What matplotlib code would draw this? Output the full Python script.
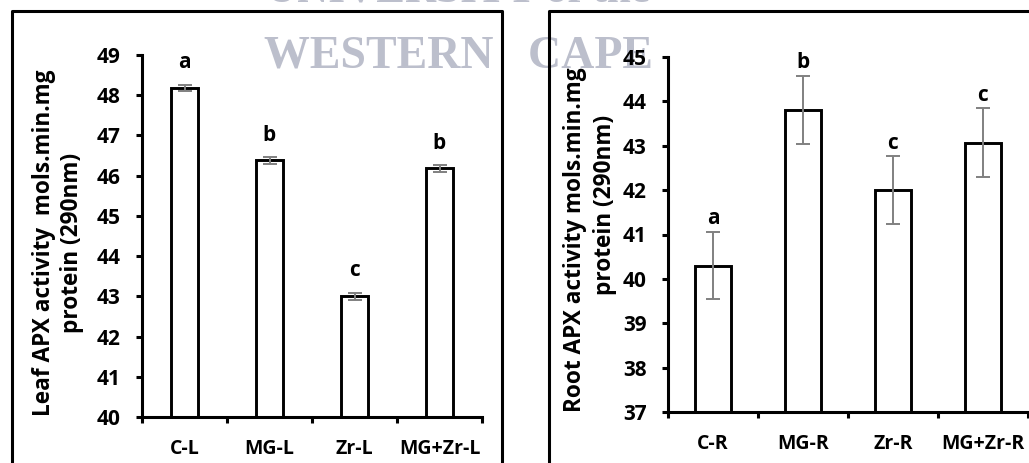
import matplotlib
matplotlib.use("Agg")
import matplotlib.pyplot as plt
from matplotlib.lines import Line2D
import numpy as np

# ---- data ----
leaf_categories = ["C-L", "MG-L", "Zr-L", "MG+Zr-L"]
leaf_values = [48.18, 46.38, 43.0, 46.18]
leaf_errors = [0.08, 0.08, 0.08, 0.08]
leaf_letters = ["a", "b", "c", "b"]

root_categories = ["C-R", "MG-R", "Zr-R", "MG+Zr-R"]
root_values = [40.3, 43.8, 42.0, 43.07]
root_errors = [0.75, 0.77, 0.76, 0.77]
root_letters = ["a", "b", "c", "c"]

leaf_yticks = [40, 41, 42, 43, 44, 45, 46, 47, 48, 49]
root_yticks = [37, 38, 39, 40, 41, 42, 43, 44, 45]

FONT = "Open Sans"
W, H = 1029, 463
fig = plt.figure(figsize=(W / 100, H / 100), dpi=100)
fig.patch.set_facecolor("white")


def px(x, y):
    """pixel (from top-left) -> figure fraction"""
    return x / W, 1 - y / H


# watermark
fig.text(*px(458, -9), "UNIVERSITY of the", ha="center", va="center",
         fontsize=31, family="Liberation Serif", fontweight="bold",
         color="#bcbfcc", zorder=-5)
fig.text(*px(458, 57), "WESTERN   CAPE", ha="center", va="center",
         fontsize=33, family="Liberation Serif", fontweight="bold",
         color="#bcbfcc", zorder=-5)


def panel(rect, cats, vals, errs, letters, yticks, barw, letter_off, lab1, lab2,
          lab_pos):
    ax = fig.add_axes(rect)
    ax.patch.set_alpha(0)
    x = np.arange(len(cats)) + 0.5
    ax.bar(x, vals, width=barw, bottom=0, color="white", edgecolor="black",
           linewidth=2.1, zorder=2)
    ax.errorbar(x, vals, yerr=errs, fmt="none", ecolor="#808080",
                elinewidth=1.4, capsize=4.8, capthick=1.4, zorder=3)
    for xi, v, e, l in zip(x, vals, errs, letters):
        ax.text(xi, v + e + letter_off, l, ha="center", va="center",
                fontsize=15, fontweight="bold", family=FONT)
    ax.set_xlim(0, len(cats))
    ax.set_ylim(yticks[0], yticks[-1])
    ax.set_yticks(yticks)
    ax.set_yticklabels([str(t) for t in yticks], fontsize=15,
                       fontweight="bold", family=FONT)
    ax.set_xticks(x)
    ax.set_xticklabels(cats, fontsize=14, fontweight="bold", family=FONT)
    ax.set_xticks(np.arange(len(cats) + 1), minor=True)
    ax.tick_params(axis="x", which="major", length=0, pad=15.5)
    ax.tick_params(axis="x", which="minor", length=4, width=2.2,
                   direction="out")
    ax.tick_params(axis="y", length=4, width=2.2, direction="out", pad=11.5)
    for s in ["top", "right"]:
        ax.spines[s].set_visible(False)
    for s in ["left", "bottom"]:
        ax.spines[s].set_linewidth(2.2)
    fig.text(*px(*lab_pos[0]), lab1, rotation=90, ha="center", va="center",
             fontsize=16.3, fontweight="bold", family=FONT)
    fig.text(*px(*lab_pos[1]), lab2, rotation=90, ha="center", va="center",
             fontsize=16.3, fontweight="bold", family=FONT)
    return ax


l0, t0 = px(142, 55)
l1, b1 = px(482, 417)
panel([l0, b1, l1 - l0, t0 - b1], leaf_categories, leaf_values, leaf_errors,
      leaf_letters, leaf_yticks, 0.31, 0.55,
      "Leaf APX activity  mols.min.mg", "protein (290nm)",
      [(44, 243), (72, 243)])

r0, rt = px(668, 57)
r1, rb = px(1028, 412)
panel([r0, rb, r1 - r0, rt - rb], root_categories, root_values, root_errors,
      root_letters, root_yticks, 0.39, 0.3,
      "Root APX activity mols.min.mg", "protein (290nm)",
      [(575, 240), (605, 205)])

# panel frames
lw = 2.2
fig.add_artist(Line2D([12 / W, 12 / W, 502 / W, 502 / W],
                      [0, 1 - 11 / H, 1 - 11 / H, 0],
                      transform=fig.transFigure, color="black", lw=lw))
fig.add_artist(Line2D([549 / W, 549 / W, 1],
                      [0, 1 - 11 / H, 1 - 11 / H],
                      transform=fig.transFigure, color="black", lw=lw))

fig.savefig("out.png", dpi=100, facecolor="white")
